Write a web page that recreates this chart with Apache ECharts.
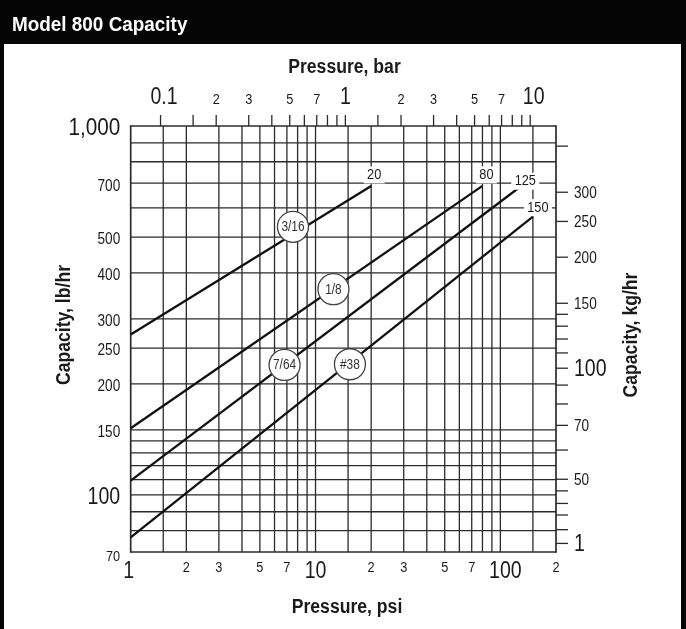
<!DOCTYPE html>
<html><head><meta charset="utf-8">
<script src="https://cdn.jsdelivr.net/npm/echarts@6/dist/echarts.min.js"></script>
<style>html,body{margin:0;padding:0;background:#fff}#c{width:686px;height:629px}</style>
</head><body><div id="c"></div>
<script>
// ---------------- data ----------------
const psiMin = 1, psiMax = 200;          // bottom axis, psi
const lbMin = 70, lbMax = 1000;          // left axis, lb/hr
const PSI_PER_BAR = 14.5038;
const KG_PER_LB = 0.45359237;

// capacity curves [pressure psi, capacity lb/hr]
const orifice316 = [[1, 272], [20, 688]];
const orifice18  = [[1, 151.5], [80, 688]];
const orifice764 = [[1, 109.3], [125, 678]];
const orificeNo38 = [[1, 76.7], [150, 568]];
const curveNames = ['3/16', '1/8', '7/64', '#38'];
const endPressureLabels = ['20', '80', '125', '150'];
// circled orifice tags [psi, lb/hr]
const tagPositions = [[7.55, 533], [12.5, 361], [6.8, 225], [15.35, 226]];

// grid lines
const psiGrid = [1,1.5,2,3,4,5,6,7,8,9,10,15,20,30,40,50,60,70,80,90,100,150,200];
const lbGrid = [70,80,90,100,110,120,130,140,150,200,250,300,400,500,600,700,800,900,1000];
// bottom (psi) labels
const psiLabelValues = [1,2,3,5,7,10,20,30,50,70,100,200];
const psiLabelTexts = ['1','2','3','5','7','10','2','3','5','7','100','2'];
// left (lb/hr) labels
const lbLabelValues = [70,100,150,200,250,300,400,500,700,1000];
const lbLabelTexts = ['70','100','150','200','250','300','400','500','700','1,000'];
// top (bar) ticks and labels
const barTickValues = [0.1,0.15,0.2,0.3,0.4,0.5,0.6,0.7,0.8,0.9,1,1.5,2,3,4,5,6,7,8,9,10];
const barLabelValues = [0.1,0.2,0.3,0.5,0.7,1,2,3,5,7,10];
const barLabelTexts = ['0.1','2','3','5','7','1','2','3','5','7','10'];
// right (kg/hr) ticks and labels
const kgTickValues = [400,300,250,200,150,140,130,120,110,100,90,80,70,60,50,46.5,43,40,36.5,33.5];
const kgLabelValues = [300,250,200,150,100,70,50,33.5];
const kgLabelTexts = ['300','250','200','150','100','70','50','1'];

// ---------------- style ----------------
const FONT = "'Liberation Sans',Arial,Helvetica,sans-serif";
const NARROW_SCALE = 0.85;
const INK = '#1a1a1a';
const GRID_INK = '#2b2b2b';
const BIG = { psi: ['1','10','100'], lb: ['1,000','100'], bar: ['0.1','1','10'], kg: ['100','1'] };
const BIG_SIZE = 23, SMALL_SIZE = 15;

const barMin = psiMin / PSI_PER_BAR, barMax = psiMax / PSI_PER_BAR;
const kgMin = lbMin * KG_PER_LB, kgMax = lbMax * KG_PER_LB;

const curves = [orifice316, orifice18, orifice764, orificeNo38];
const curveEnds = curves.map(c => c[c.length - 1]);
const endLabelOffsets = [[3, -11], [4, -11], [7, -7], [5, -9]];

function hiddenLog(extra) {
  return Object.assign({
    type: 'log', logBase: 10,
    axisLine: { show: false }, axisTick: { show: false },
    axisLabel: { show: false }, splitLine: { show: false }
  }, extra);
}

function textItem(x, y, text, size, align, vAlign, extraStyle, scale) {
  return {
    type: 'text', x: x, y: y, scaleX: scale || NARROW_SCALE,
    style: Object.assign({
      text: text, fontFamily: FONT, fontSize: size, fill: INK,
      align: align, verticalAlign: vAlign
    }, extraStyle || {})
  };
}

function titleGraphic(text, x, y, rotation) {
  return {
    type: 'text', x: x, y: y, rotation: rotation || 0, scaleX: 0.88, z: 11,
    style: { text: text, fontFamily: FONT, fontWeight: 'bold', fontSize: 20, fill: INK,
      align: 'center', verticalAlign: 'middle' }
  };
}

const series = [];

// vertical grid lines
series.push({
  type: 'custom', xAxisIndex: 0, yAxisIndex: 0, z: 1, silent: true,
  data: psiGrid.map(v => [v, lbMin]),
  renderItem: (params, api) => {
    const v = api.value(0);
    const a = api.coord([v, lbMin]), b = api.coord([v, lbMax]);
    const edge = (v === psiMin || v === psiMax);
    return { type: 'line', shape: { x1: a[0], y1: a[1] + (edge ? 0.8 : 0), x2: b[0], y2: b[1] - (edge ? 0.8 : 0) },
      style: { stroke: GRID_INK, lineWidth: edge ? 1.7 : 1.3 } };
  }
});
// horizontal grid lines
series.push({
  type: 'custom', xAxisIndex: 0, yAxisIndex: 0, z: 1, silent: true,
  data: lbGrid.map(v => [psiMin, v]),
  renderItem: (params, api) => {
    const v = api.value(1);
    const a = api.coord([psiMin, v]), b = api.coord([psiMax, v]);
    const edge = (v === lbMin || v === lbMax);
    return { type: 'line', shape: { x1: a[0], y1: a[1], x2: b[0], y2: b[1] },
      style: { stroke: GRID_INK, lineWidth: edge ? 1.7 : 1.3 } };
  }
});
// bottom labels
series.push({
  type: 'custom', xAxisIndex: 0, yAxisIndex: 0, z: 2, silent: true,
  data: psiLabelValues.map(v => [v, lbMin]),
  renderItem: (params, api) => {
    const t = psiLabelTexts[params.dataIndex];
    const p = api.coord([api.value(0), lbMin]);
    const big = BIG.psi.includes(t);
    const dx = t === '100' ? 5 : (t === '1' ? -2 : 0);
    return textItem(p[0] + dx, p[1] + (big ? 19.5 : 15.5), t, big ? BIG_SIZE : SMALL_SIZE, 'center', 'middle');
  }
});
// left labels
series.push({
  type: 'custom', xAxisIndex: 0, yAxisIndex: 0, z: 2, silent: true,
  data: lbLabelValues.map(v => [psiMin, v]),
  renderItem: (params, api) => {
    const t = lbLabelTexts[params.dataIndex];
    const p = api.coord([psiMin, api.value(1)]);
    const big = BIG.lb.includes(t);
    const size = big ? BIG_SIZE : (t === '70' ? 15 : 16);
    return textItem(p[0] - 10.5, p[1] + (t === '70' ? 5 : 3), t, size, 'right', 'middle', null, big && t === '1,000' ? 0.9 : NARROW_SCALE);
  }
});
// top ticks
series.push({
  type: 'custom', xAxisIndex: 1, yAxisIndex: 1, z: 2, silent: true,
  data: barTickValues.map(v => [v, kgMax]),
  renderItem: (params, api) => {
    const p = api.coord([api.value(0), kgMax]);
    return { type: 'line', shape: { x1: p[0], y1: p[1], x2: p[0], y2: p[1] - 11 },
      style: { stroke: GRID_INK, lineWidth: 1.3 } };
  }
});
// top labels
series.push({
  type: 'custom', xAxisIndex: 1, yAxisIndex: 1, z: 2, silent: true,
  data: barLabelValues.map(v => [v, kgMax]),
  renderItem: (params, api) => {
    const t = barLabelTexts[params.dataIndex];
    const p = api.coord([api.value(0), kgMax]);
    const big = BIG.bar.includes(t);
    const dx = (t === '0.1' || t === '10') ? 3.5 : 0;
    return textItem(p[0] + dx, p[1] + (big ? -28.5 : -26), t, big ? BIG_SIZE : SMALL_SIZE, 'center', 'middle');
  }
});
// right ticks
series.push({
  type: 'custom', xAxisIndex: 1, yAxisIndex: 1, z: 2, silent: true,
  data: kgTickValues.map(v => [barMax, v]),
  renderItem: (params, api) => {
    const p = api.coord([barMax, api.value(1)]);
    return { type: 'line', shape: { x1: p[0], y1: p[1], x2: p[0] + 12, y2: p[1] },
      style: { stroke: GRID_INK, lineWidth: 1.3 } };
  }
});
// right labels
series.push({
  type: 'custom', xAxisIndex: 1, yAxisIndex: 1, z: 2, silent: true,
  data: kgLabelValues.map(v => [barMax, v]),
  renderItem: (params, api) => {
    const t = kgLabelTexts[params.dataIndex];
    const p = api.coord([barMax, api.value(1)]);
    const big = BIG.kg.includes(t);
    return textItem(p[0] + 18, p[1] + 1, t, big ? BIG_SIZE : 16, 'left', 'middle');
  }
});
// capacity curves
curves.forEach((c, i) => {
  series.push({
    type: 'line', name: curveNames[i], xAxisIndex: 0, yAxisIndex: 0, z: 3,
    data: c, symbol: 'none', silent: true,
    lineStyle: { color: '#111', width: 2.3 }
  });
});
// end-pressure labels
series.push({
  type: 'custom', xAxisIndex: 0, yAxisIndex: 0, z: 5, silent: true,
  data: curveEnds,
  renderItem: (params, api) => {
    const i = params.dataIndex;
    const p = api.coord([api.value(0), api.value(1)]);
    const o = endLabelOffsets[i];
    return textItem(p[0] + o[0], p[1] + o[1], endPressureLabels[i], 15, 'center', 'middle',
      { backgroundColor: '#fff', padding: [1, 4, 1, 4] });
  }
});
// circled tags
series.push({
  type: 'custom', xAxisIndex: 0, yAxisIndex: 0, z: 6, silent: true,
  data: tagPositions,
  renderItem: (params, api) => {
    const p = api.coord([api.value(0), api.value(1)]);
    return {
      type: 'group', children: [
        { type: 'circle', shape: { cx: p[0], cy: p[1], r: 15.5 }, style: { fill: '#fff', stroke: '#444', lineWidth: 1.3 } },
        textItem(p[0], p[1] + 0.5, curveNames[params.dataIndex], 14, 'center', 'middle', { fill: '#333' })
      ]
    };
  }
});

const option = {
  animation: false,
  backgroundColor: '#fff',
  grid: { left: 130.7, top: 126, width: 425.3, height: 426, containLabel: false, outerBoundsMode: 'none' },
  xAxis: [
    hiddenLog({ min: psiMin, max: psiMax, position: 'bottom' }),
    hiddenLog({ min: barMin, max: barMax, position: 'top' })
  ],
  yAxis: [
    hiddenLog({ min: lbMin, max: lbMax, position: 'left' }),
    hiddenLog({ min: kgMin, max: kgMax, position: 'right' })
  ],
  graphic: [
    { type: 'rect', left: 0, top: 0, shape: { width: 686, height: 44 }, style: { fill: '#050505' }, z: 10 },
    { type: 'rect', left: 0, top: 0, shape: { width: 4, height: 629 }, style: { fill: '#050505' }, z: 10 },
    { type: 'rect', right: 0, top: 0, shape: { width: 5, height: 629 }, style: { fill: '#050505' }, z: 10 },
    { type: 'text', x: 12, y: 25, scaleX: 0.9, z: 11,
      style: { text: 'Model 800 Capacity', fontFamily: FONT, fontWeight: 'bold', fontSize: 21, fill: '#fff', verticalAlign: 'middle' } },
    titleGraphic('Pressure, bar', 344.5, 67),
    titleGraphic('Pressure, psi', 347, 607),
    titleGraphic('Capacity, lb/hr', 64, 325, Math.PI / 2),
    titleGraphic('Capacity, kg/hr', 631, 335, Math.PI / 2)
  ],
  series: series
};
const chart = echarts.init(document.getElementById('c'));
chart.setOption(option);
</script>
</body></html>
